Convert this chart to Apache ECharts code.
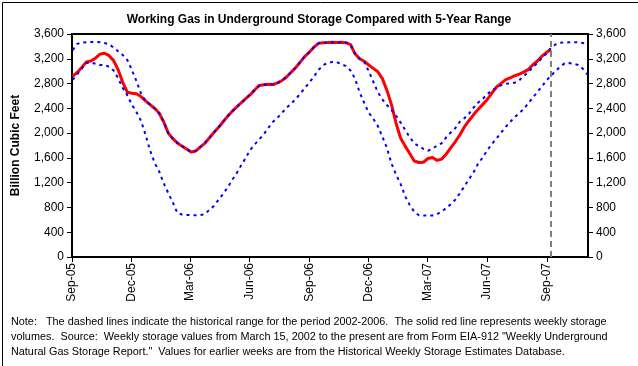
<!DOCTYPE html>
<html>
<head>
<meta charset="utf-8">
<script src="https://cdn.jsdelivr.net/npm/echarts@6/dist/echarts.min.js"></script>
<style>
html,body{margin:0;padding:0;background:#fff;}
#chart{width:638px;height:366px;}
</style>
</head>
<body>
<div id="chart"></div>
<script>
// ---- Data (weekly, starting week ending 2005-09-02) ----
const startDate = "2005-09-02";
const axisStart = "2005-09-01";
const axisEnd = "2007-11-03";
const currentWeek = "2007-09-07";

const tickDates = ["2005-09-01","2005-12-01","2006-03-01","2006-06-01","2006-09-01","2006-12-01","2007-03-01","2007-06-01","2007-09-01"];
const tickLabels = ["Sep-05","Dec-05","Mar-06","Jun-06","Sep-06","Dec-06","Mar-07","Jun-07","Sep-07"];
const yTicks = [0,400,800,1200,1600,2000,2400,2800,3200,3600];

// Weekly working gas in storage (Bcf)
const storage = [
 2915,2980,3060,3150,3165,3210,3275,3290,3250,3170,
 3020,2820,2660,2645,2635,2590,2520,2460,2400,2320,
 2180,2000,1910,1840,1790,1745,1695,1710,1775,1835,
 1920,2010,2090,2180,2270,2350,2420,2490,2555,2620,
 2700,2770,2780,2790,2785,2810,2850,2910,2985,3060,
 3150,3240,3310,3390,3450,3460,3462,3465,3462,3465,
 3460,3430,3280,3200,3160,3100,3045,2990,2880,2690,
 2460,2160,1920,1790,1670,1550,1525,1530,1590,1605,
 1560,1580,1660,1760,1860,1970,2100,2200,2295,2380,
 2460,2540,2640,2740,2800,2860,2890,2925,2950,2985,
 3025,3100,3160,3240,3300,3350
];

// 5-year range, maximum (Bcf)
const rangeMax = [
 3340,3440,3462,3468,3470,3470,3468,3455,3435,3380,
 3320,3260,3180,3020,2840,2640,2520,2460,2400,2320,
 2180,2000,1910,1840,1790,1745,1695,1710,1775,1835,
 1920,2010,2090,2180,2270,2350,2420,2490,2555,2620,
 2700,2770,2780,2790,2785,2810,2850,2910,2985,3060,
 3150,3240,3310,3390,3450,3460,3462,3465,3462,3465,
 3460,3430,3280,3200,3150,3000,2830,2660,2545,2453,
 2373,2280,2170,2050,1935,1835,1790,1745,1716,1745,
 1800,1835,1930,2010,2080,2184,2240,2310,2410,2491,
 2550,2625,2690,2730,2770,2795,2805,2812,2850,2920,
 2985,3060,3130,3210,3285,3375,3430,3459,3463,3465,
 3465,3465,3455,3440
];

// 5-year range, minimum (Bcf)
const rangeMin = [
 2860,2950,3040,3130,3140,3120,3100,3100,3070,3010,
 2884,2730,2610,2460,2340,2200,1975,1720,1520,1380,
 1190,1030,880,710,685,678,675,675,678,690,
 760,825,920,1015,1120,1240,1351,1480,1600,1730,
 1820,1900,1985,2090,2184,2250,2330,2410,2480,2550,
 2640,2730,2820,2915,3020,3099,3130,3150,3145,3115,
 3080,3010,2880,2660,2490,2330,2230,2115,1940,1760,
 1510,1330,1180,980,840,730,675,670,670,670,
 690,732,790,850,925,1028,1140,1255,1365,1505,
 1605,1720,1820,1910,2000,2095,2175,2255,2320,2385,
 2480,2570,2660,2750,2850,2925,3000,3070,3126,3130,
 3120,3100,3040,2950
];

const noteLines = [
 "Note:   The dashed lines indicate the historical range for the period 2002-2006.  The solid red line represents weekly storage",
 "volumes.  Source:  Weekly storage values from March 15, 2002 to the present are from Form EIA-912 \"Weekly Underground",
 "Natural Gas Storage Report.\"  Values for earlier weeks are from the Historical Weekly Storage Estimates Database."
];

// ---- helpers ----
const DAY = 86400000;
function utc(s){ const p=s.split('-').map(Number); return Date.UTC(p[0],p[1]-1,p[2]); }
function toDay(s){ return (utc(s) - utc(axisStart))/DAY; }
const firstDay = toDay(startDate);
function weekly(arr){ return arr.map((v,i)=>[firstDay + 7*i, v]); }
const tickDays = tickDates.map(toDay);
const labelMap = {}; tickDays.forEach((d,i)=>labelMap[d]=tickLabels[i]);
const fmtNum = v => v.toLocaleString('en-US');
const FONT = "'Liberation Sans', Arial, sans-serif";

const chart = echarts.init(document.getElementById('chart'), null, {renderer:'canvas'});
const yAxisCommon = {
  type:'value', min:0, max:3600, interval:400,
  axisLine:{show:true, lineStyle:{color:'#000', width:2}},
  axisTick:{show:true, length:5, lineStyle:{color:'#000', width:1}},
  splitLine:{show:false},
  axisLabel:{color:'#000', fontSize:12, fontFamily:FONT, margin:8, formatter:fmtNum, customValues:yTicks}
};
chart.setOption({
  animation:false,
  backgroundColor:'#fff',
  title:{
    text:'Working Gas in Underground Storage Compared with 5-Year Range',
    left:'center', top:9,
    textStyle:{fontSize:12, fontWeight:'bold', color:'#000', fontFamily:FONT}
  },
  grid:{left:72, right:50, top:34, bottom:109, show:true, borderColor:'#000', borderWidth:2, backgroundColor:'transparent', containLabel:false},
  xAxis:{
    type:'value', min:0, max:toDay(axisEnd),
    axisLine:{show:true, onZero:false, lineStyle:{color:'#000', width:2}},
    axisTick:{show:true, length:5, customValues:tickDays, lineStyle:{color:'#000'}},
    splitLine:{show:false},
    axisLabel:{color:'#000', fontSize:12, fontFamily:FONT, rotate:90, margin:6, customValues:tickDays,
      formatter:v=>labelMap[v]||''}
  },
  yAxis:[
    Object.assign({}, yAxisCommon, {position:'left', name:'Billion Cubic Feet', nameLocation:'middle', nameGap:50,
      nameTextStyle:{fontSize:12, fontWeight:'bold', color:'#000', fontFamily:FONT}}),
    Object.assign({}, yAxisCommon, {position:'right'})
  ],
  series:[
    {type:'line', name:'Storage', data:weekly(storage), symbol:'none', z:2,
     lineStyle:{color:'#FF0000', width:3},
     markLine:{silent:true, symbol:'none', label:{show:false},
       lineStyle:{color:'#808080', width:2, type:[6,4]},
       data:[{xAxis: toDay(currentWeek)}]}},
    {type:'line', name:'5-yr max', data:weekly(rangeMax), symbol:'none', z:3,
     lineStyle:{color:'#0000FF', width:2, type:[3,4]}},
    {type:'line', name:'5-yr min', data:weekly(rangeMin), symbol:'none', z:3,
     lineStyle:{color:'#0000FF', width:2, type:[3,4]}}
  ],
  graphic:[
    {type:'rect', left:0, top:0, shape:{x:0.5, y:0.5, width:637, height:365}, style:{fill:'none', stroke:'#000', lineWidth:1}, silent:true},
  ].concat(noteLines.map((t,i)=>({
    type:'text', left:11, top:316 + i*15,
    style:{text:t, fill:'#000', font:"10.85px "+FONT}
  })))
});
</script>
</body>
</html>
